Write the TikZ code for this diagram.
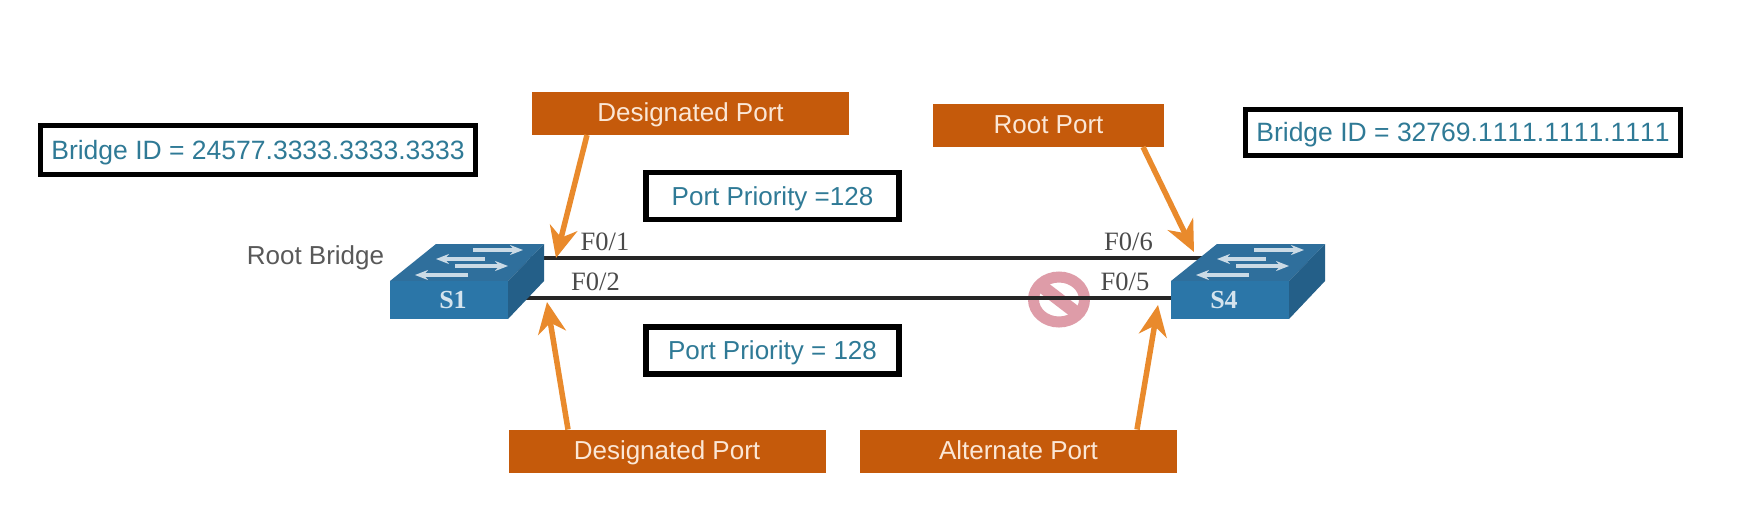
\documentclass[tikz,border=0pt]{standalone}
\usepackage{fontspec}
\setmainfont{Liberation Sans}
\newfontfamily\serifport{Liberation Serif}
\newfontfamily\nokern[Kerning=Off]{Liberation Sans}
\usetikzlibrary{arrows.meta}
\definecolor{boxorange}{HTML}{C55A0B}
\definecolor{arroworange}{HTML}{E98A2C}
\definecolor{labelcream}{HTML}{FBE7D6}
\definecolor{tealtext}{HTML}{2F7A96}
\definecolor{portgrey}{HTML}{4A4A4A}
\definecolor{swfront}{HTML}{2B76A8}
\definecolor{swtop}{HTML}{2F6F9C}
\definecolor{swside}{HTML}{245F88}
\definecolor{blockpink}{HTML}{DE9CA8}
\tikzset{
  x=1pt,y=-1pt,
  every node/.style={inner sep=0pt,outer sep=0pt},
  rolebox/.style={fill=boxorange,text=labelcream,font=\fontsize{26}{30}\selectfont,minimum height=43,text height=16,text depth=0},
  infobox/.style={draw=black,line width=5.5,fill=white,text=tealtext,font=\fontsize{26}{30}\selectfont,text height=18,text depth=0},
  callout/.style={draw=arroworange,line width=5.5,-{Stealth[length=31,width=28,inset=10]}},
  linkline/.style={draw=black!85,line width=4},
  portlabel/.style={text=portgrey,font=\serifport\fontsize{26.5}{30}\selectfont},
  swlabel/.style={text=white!80!swfront,font=\serifport\fontsize{26}{30}\bfseries\selectfont},
  flowarrow/.style={draw=white!75!swtop,line width=3.2,-{Stealth[length=13,width=10]}},
  switchbody/.pic={
    \fill[swtop] (0,37) -- (46,0) -- (154,0) -- (118,37) -- cycle;
    \fill[swfront] (0,37) rectangle (118,75);
    \fill[swside] (118,37) -- (154,0) -- (154,37) -- (118,75) -- cycle;
    \draw[flowarrow] (83,6) -- (133,6);
    \draw[flowarrow] (95,15) -- (46,15);
    \draw[flowarrow] (65,22) -- (118,22);
    \draw[flowarrow] (78,31) -- (25,31);
  }
}
\begin{document}
\begin{tikzpicture}
\useasboundingbox (0,0) rectangle (1742,523);
\fill[white] (0,0) rectangle (1742,523);

% blocked port symbol
\coordinate (block) at (1059,299.5);
\draw[blockpink,line width=11] (block) ellipse [x radius=25.5,y radius=22.5];
\draw[blockpink,line width=13] ([shift={(-17,-13)}]block) -- ([shift={(17,13)}]block);

% links
\coordinate (s1a) at (530,258);
\coordinate (s4a) at (1215,258);
\coordinate (s1b) at (510,298);
\coordinate (s4b) at (1175,298);
\draw[linkline] (s1a) -- (s4a);
\draw[linkline] (s1b) -- (s4b);

% switches
\pic at (390,244) {switchbody};
\pic at (1171,244) {switchbody};
\node[swlabel] (s1) at (453,300) {S1};
\node[swlabel] (s4) at (1224,300) {S4};

% info boxes
\node[infobox,minimum width=435,minimum height=49] (bidl) at (258,150) {\nokern\fontsize{26.5}{30}\selectfont Bridge ID = 24577.3333.3333.3333};
\node[infobox,minimum width=435,minimum height=46] (bidr) at (1463,132.5) {\nokern\fontsize{26.5}{30}\selectfont Bridge ID = 32769.1111.1111.1111};
\node[infobox,minimum width=253,minimum height=47] (pp1) at (772.5,196) {Port Priority =128};
\node[infobox,minimum width=253,minimum height=47] (pp2) at (772.5,350.5) {Port Priority = 128};

% role boxes
\node[rolebox,minimum width=317] (dp1) at (690.5,113.5) {Designated Port};
\node[rolebox,minimum width=231] (rp) at (1048.5,125.5) {Root Port};
\node[rolebox,minimum width=317] (dp2) at (667,451) {Designated Port};
\node[rolebox,minimum width=317] (ap) at (1018.5,451) {Alternate Port};

% text labels
\node[text=black!65,font=\fontsize{26}{30}\selectfont] (rb) at (315.5,258) {Root Bridge};
\node[portlabel] (f1) at (605,242) {F0/1};
\node[portlabel] (f2) at (595.5,282) {F0/2};
\node[portlabel] (f6) at (1128.5,242) {F0/6};
\node[portlabel] (f5) at (1125,282) {F0/5};

% callouts
\coordinate (t1) at (556,258);
\coordinate (t2) at (1194,252);
\coordinate (t3) at (547,302);
\coordinate (t4) at (1158,305);
\draw[callout] ([xshift=-103.5]dp1.south) -- (t1);
\draw[callout] ([xshift=94.5]rp.south) -- (t2);
\draw[callout] ([xshift=-99]dp2.north) -- (t3);
\draw[callout] ([xshift=118.5]ap.north) -- (t4);
\end{tikzpicture}
\end{document}
